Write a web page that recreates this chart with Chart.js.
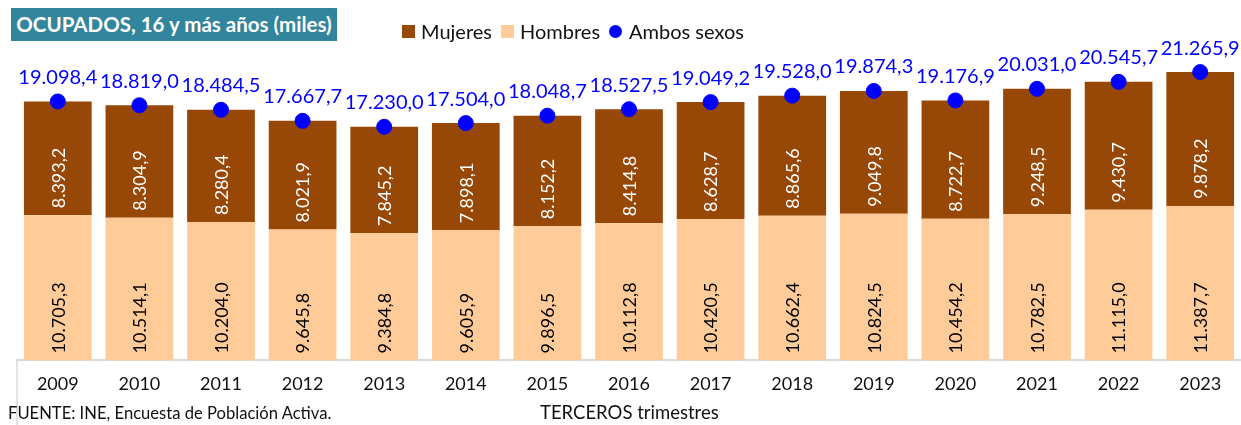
<!DOCTYPE html>
<html>
<head>
<meta charset="utf-8">
<script src="https://cdn.jsdelivr.net/npm/chart.js@4.4.0/dist/chart.umd.min.js"></script>
<style>
  html, body { margin: 0; padding: 0; background: #ffffff; }
  #wrap { position: relative; width: 1241px; height: 425px; overflow: hidden; font-family: Lato, "Open Sans", sans-serif; }
  #c { position: absolute; left: 0; top: 0; }
  #title { position: absolute; left: 11px; top: 8px; width: 326px; height: 33px; background: #31859C; color: #fff;
           font-weight: bold; font-size: 20.5px; line-height: 33px; text-align: center; white-space: nowrap; }
  #legend { position: absolute; left: 402px; top: 19px; height: 24px; display: flex; align-items: center; font-size: 20px; color: #111; white-space: nowrap; }
  #legend .it { display: flex; align-items: center; margin-right: 9px; }
  #legend .sw { width: 13px; height: 13px; margin-right: 6px; }
  #legend .dot { width: 13px; height: 13px; border-radius: 50%; margin-right: 7px; }
  .foot { position: absolute; color: #111; white-space: nowrap; }
</style>
</head>
<body>
<div id="wrap">
  <canvas id="c" width="1241" height="425"></canvas>
  <div id="title">OCUPADOS, 16 y más años (miles)</div>
  <div id="legend"></div>
  <div class="foot" style="left:8px; top:403px; font-size:16.6px;">FUENTE: INE, Encuesta de Población Activa.</div>
  <div class="foot" style="left:540px; top:401px; font-size:18.5px;">TERCEROS trimestres</div>
</div>
<script>
const years = ["2009","2010","2011","2012","2013","2014","2015","2016","2017","2018","2019","2020","2021","2022","2023"];
const hombres = [10705.3, 10514.1, 10204.0, 9645.8, 9384.8, 9605.9, 9896.5, 10112.8, 10420.5, 10662.4, 10824.5, 10454.2, 10782.5, 11115.0, 11387.7];
const mujeres = [8393.2, 8304.9, 8280.4, 8021.9, 7845.2, 7898.1, 8152.2, 8414.8, 8628.7, 8865.6, 9049.8, 8722.7, 9248.5, 9430.7, 9878.2];
const ambos = [19098.4, 18819.0, 18484.5, 17667.7, 17230.0, 17504.0, 18048.7, 18527.5, 19049.2, 19528.0, 19874.3, 19176.9, 20031.0, 20545.7, 21265.9];

const COL_M = "#974706", COL_H = "#FFCC99", COL_A = "#0000FF";
const FONT = "Lato, 'Open Sans', sans-serif";

function fmt(v) {
  const s = v.toFixed(1);
  let [ip, dp] = s.split(".");
  ip = ip.replace(/\B(?=(\d{3})+(?!\d))/g, ".");
  return ip + "," + dp;
}

// HTML legend
const legendItems = [
  {label: "Mujeres", color: COL_M, kind: "sw"},
  {label: "Hombres", color: COL_H, kind: "sw"},
  {label: "Ambos sexos", color: COL_A, kind: "dot"}
];
const lg = document.getElementById("legend");
legendItems.forEach(it => {
  const d = document.createElement("div"); d.className = "it";
  const s = document.createElement("span"); s.className = it.kind; s.style.background = it.color;
  const t = document.createElement("span"); t.textContent = it.label;
  d.appendChild(s); d.appendChild(t); lg.appendChild(d);
});

const labelPlugin = {
  id: "labels",
  afterDatasetsDraw(chart) {
    const ctx = chart.ctx;
    ctx.save();
    chart.data.datasets.forEach((ds, di) => {
      const meta = chart.getDatasetMeta(di);
      meta.data.forEach((el, i) => {
        const txt = fmt(ds.data[i]);
        if (ds.type === "line") {
          ctx.fillStyle = COL_A;
          ctx.font = "20px " + FONT;
          ctx.textAlign = "center";
          ctx.textBaseline = "middle";
          ctx.fillText(txt, el.x, el.y - 24);
        } else {
          const p = el.getProps(["x", "y", "base"], true);
          ctx.save();
          ctx.translate(p.x, p.base - 7);
          ctx.rotate(-Math.PI / 2);
          ctx.fillStyle = ds.labelColor;
          ctx.font = "18px " + FONT;
          ctx.textAlign = "left";
          ctx.textBaseline = "middle";
          ctx.fillText(txt, 0, 1);
          ctx.restore();
        }
      });
    });
    // frame line below plot area
    const a = chart.chartArea;
    ctx.strokeStyle = "#d9d9d9";
    ctx.lineWidth = 1.5;
    ctx.beginPath();
    ctx.moveTo(a.left, a.bottom);
    ctx.lineTo(a.left, chart.height);
    ctx.stroke();
    ctx.restore();
  }
};

new Chart(document.getElementById("c"), {
  data: {
    labels: years,
    datasets: [
      { type: "line", label: "Ambos sexos", data: ambos, stack: "total", order: 0,
        showLine: false, pointRadius: 7.5, pointHoverRadius: 7.5, pointBackgroundColor: COL_A,
        pointBorderColor: COL_A, borderColor: COL_A, backgroundColor: COL_A },
      { type: "bar", label: "Hombres", data: hombres, stack: "s", order: 1,
        backgroundColor: COL_H, labelColor: "#000000", borderWidth: 0,
        categoryPercentage: 1.0, barPercentage: 0.83 },
      { type: "bar", label: "Mujeres", data: mujeres, stack: "s", order: 1,
        backgroundColor: COL_M, labelColor: "#ffffff", borderWidth: 0,
        categoryPercentage: 1.0, barPercentage: 0.83 }
    ]
  },
  options: {
    responsive: false,
    animation: false,
    events: [],
    layout: { autoPadding: false, padding: { top: 35, left: 17, right: 0, bottom: 17 } },
    plugins: { legend: { display: false }, tooltip: { enabled: false }, title: { display: false } },
    scales: {
      x: {
        stacked: true,
        grid: { display: false, drawTicks: false },
        border: { display: true, color: "#d9d9d9", width: 2 },
        ticks: { color: "#111", font: { family: FONT, size: 18 }, padding: 13, maxRotation: 0 }
      },
      y: {
        stacked: true, display: false, min: 0, max: 24000
      }
    }
  },
  plugins: [labelPlugin]
});
</script>
</body>
</html>
